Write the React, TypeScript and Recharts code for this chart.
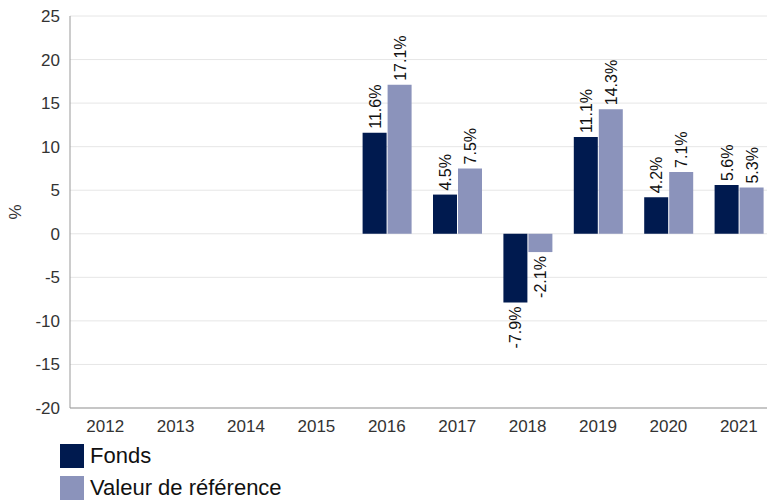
import { BarChart, Bar, XAxis, YAxis, CartesianGrid, LabelList } from "recharts";

const years = ["2012", "2013", "2014", "2015", "2016", "2017", "2018", "2019", "2020", "2021"];
const fonds = [null, null, null, null, 11.6, 4.5, -7.9, 11.1, 4.2, 5.6];
const reference = [null, null, null, null, 17.1, 7.5, -2.1, 14.3, 7.1, 5.3];
const yTicks = [-20, -15, -10, -5, 0, 5, 10, 15, 20, 25];

const series = [
  { key: "fonds", name: "Fonds", color: "#001a4f" },
  { key: "reference", name: "Valeur de référence", color: "#8b93bb" },
];

const data = years.map((year, i) => ({
  year,
  fonds: fonds[i],
  reference: reference[i],
}));

const FONT = '"Liberation Sans", Arial, sans-serif';

function ValueLabel(props: any) {
  const { x, y, width, height, value } = props;
  if (value === null || value === undefined) return null;
  const top = Math.min(y, y + height);
  const bottom = Math.max(y, y + height);
  const cx = x + width / 2 + 6;
  const neg = value < 0;
  const ty = neg ? bottom + 4 : top - 4;
  return (
    <text
      x={cx}
      y={ty}
      transform={`rotate(-90 ${cx} ${ty})`}
      textAnchor={neg ? "end" : "start"}
      fontSize={16}
      fontFamily={FONT}
      fill="#111"
    >
      {value.toFixed(1)}%
    </text>
  );
}

function AxisTitle(props: any) {
  const { viewBox } = props;
  const cx = 15;
  const cy = viewBox.y + viewBox.height / 2;
  return (
    <text
      x={cx}
      y={cy}
      transform={`rotate(-90 ${cx} ${cy})`}
      textAnchor="middle"
      dominantBaseline="central"
      fontSize={17}
      fontFamily={FONT}
      fill="#333"
    >
      %
    </text>
  );
}

export default function App() {
  return (
    <div
      style={{
        position: "absolute",
        left: 0,
        top: 0,
        width: 767,
        height: 502,
        overflow: "hidden",
        background: "#fff",
        fontFamily: FONT,
      }}
    >
      <BarChart
        width={776}
        height={502}
        data={data}
        margin={{ top: 16, right: 2, left: 0, bottom: 64 }}
        barGap={1}
        barSize={24}
      >
        <CartesianGrid vertical={false} stroke="#e6e6e6" />
        <XAxis
          dataKey="year"
          axisLine={{ stroke: "#999" }}
          tickLine={false}
          tickMargin={6}
          height={30}
          tick={{ fontSize: 17, fill: "#333", fontFamily: FONT }}
        />
        <YAxis
          width={70}
          domain={[-20, 25]}
          ticks={yTicks}
          interval={0}
          axisLine={{ stroke: "#999" }}
          tickLine={false}
          tickMargin={4}
          tick={{ fontSize: 17, fill: "#333", fontFamily: FONT }}
          label={<AxisTitle />}
        />
        {series.map((s) => (
          <Bar key={s.key} dataKey={s.key} name={s.name} fill={s.color} isAnimationActive={false}>
            <LabelList dataKey={s.key} content={<ValueLabel />} />
          </Bar>
        ))}
      </BarChart>
      <div style={{ position: "absolute", left: 60, top: 444 }}>
        {series.map((s, i) => (
          <div
            key={s.key}
            style={{ display: "flex", alignItems: "center", height: 24, marginTop: i === 0 ? 0 : 8 }}
          >
            <div style={{ width: 24, height: 24, background: s.color, marginRight: 6 }} />
            <span style={{ fontSize: 22, lineHeight: "24px", color: "#111" }}>{s.name}</span>
          </div>
        ))}
      </div>
    </div>
  );
}
